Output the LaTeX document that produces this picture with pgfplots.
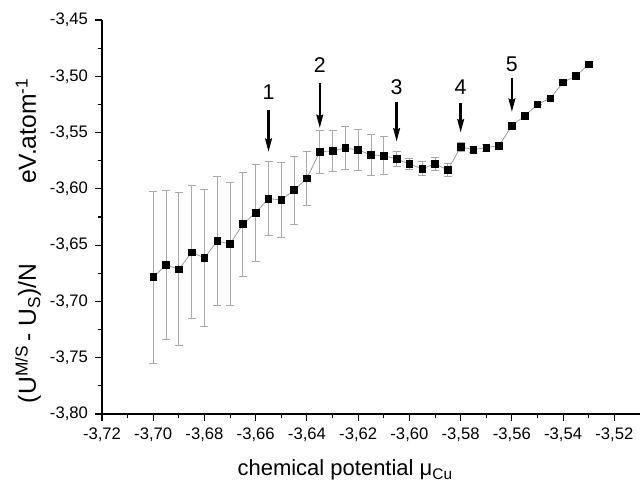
\documentclass[border=0pt]{standalone}
\usepackage{pgfplots}
\pgfplotsset{compat=1.18}
\usepackage{fontspec}
\setmainfont{Liberation Sans}
\usetikzlibrary{arrows.meta}
\definecolor{errgray}{HTML}{A8A8A8}
\definecolor{linegray}{HTML}{9A9A9A}

\pgfplotstableread{
x       y        e
-3.700  -3.6785  0.0765
-3.695  -3.6676  0.0665
-3.690  -3.6714  0.068
-3.685  -3.6563  0.059
-3.680  -3.6614  0.061
-3.675  -3.6463  0.057
-3.670  -3.6490  0.055
-3.665  -3.6314  0.046
-3.660  -3.6211  0.043
-3.655  -3.6087  0.033
-3.650  -3.6098  0.033
-3.645  -3.6012  0.030
-3.640  -3.5906  0.024
-3.635  -3.5670  0.019
-3.630  -3.5663  0.018
-3.625  -3.5639  0.019
-3.620  -3.5654  0.018
-3.615  -3.5699  0.018
-3.610  -3.5705  0.017
-3.605  -3.5734  0.007
-3.600  -3.5781  0.005
-3.595  -3.5820  0.006
-3.590  -3.5779  0.006
-3.585  -3.5832  0.006
-3.580  -3.5628  0.004
-3.575  -3.5651  0.003
-3.570  -3.5634  0.003
-3.565  -3.5616  0.003
-3.560  -3.5439  0.0
-3.555  -3.5352  0.0
-3.550  -3.5249  0.0
-3.545  -3.5195  0.0
-3.540  -3.5053  0.0
-3.535  -3.4997  0.0
-3.530  -3.4894  0.0
}\datatable

\begin{document}
\begin{tikzpicture}
\begin{axis}[
    scale only axis,
    width=403.5pt, height=295.5pt,
    xmin=-3.72, xmax=-3.51,
    ymin=-3.80, ymax=-3.45,
    axis x line=bottom, axis y line=left,
    axis line style={-, line width=0.8pt},
    tick align=outside,
    major tick length=5pt, minor tick length=3pt,
    every tick/.style={black, line width=0.8pt},
    xtick={-3.72,-3.70,...,-3.52},
    ytick={-3.80,-3.75,...,-3.45},
    minor x tick num=1, minor y tick num=1,
    tick label style={font=\fontsize{12.5}{15}\selectfont},
    xticklabel style={yshift=-2pt},
    yticklabel style={xshift=-2pt},
    /pgf/number format/.cd, fixed, fixed zerofill, precision=2, use comma, assume math mode=true,
    /pgfplots/.cd,
    xlabel={chemical potential μ\textsubscript{Cu}},
    ylabel={(U\textsuperscript{M/S}\,- U\textsubscript{S})/N\hspace{2.1cm}eV.atom\textsuperscript{-1}},
    xlabel style={font=\fontsize{16.5}{19}\selectfont, at={(axis description cs:0.452,-0.142)}, anchor=center},
    ylabel style={font=\fontsize{18.5}{21}\selectfont, at={(axis description cs:-0.1375,0.44)}, anchor=center},
    clip=false,
]
\addplot[linegray, line width=0.6pt, mark=square*, mark size=2.5pt,
    mark options={black, solid},
    error bars/.cd, y dir=both, y explicit,
    error bar style={errgray, line width=0.7pt},
    error mark options={rotate=90, errgray, mark size=3pt, line width=0.7pt}]
    table[x=x, y=y, y error=e] {\datatable};

\coordinate (SW) at (rel axis cs:0,0);
\coordinate (NE) at (rel axis cs:1,1);

\begin{scope}[every node/.style={font=\fontsize{16}{18}\selectfont}]
\draw[line width=1.8pt, -{Stealth[length=10pt,width=5pt,inset=1pt]}] (axis cs:-3.655,-3.530) -- (axis cs:-3.655,-3.5672);
\node at (axis cs:-3.655,-3.514) {1};
\draw[line width=1.8pt, -{Stealth[length=10pt,width=5pt,inset=1pt]}] (axis cs:-3.635,-3.506) -- (axis cs:-3.635,-3.546);
\node at (axis cs:-3.635,-3.490) {2};
\draw[line width=1.8pt, -{Stealth[length=10pt,width=5pt,inset=1pt]}] (axis cs:-3.605,-3.523) -- (axis cs:-3.605,-3.558);
\node at (axis cs:-3.605,-3.510) {3};
\draw[line width=1.8pt, -{Stealth[length=10pt,width=5pt,inset=1pt]}] (axis cs:-3.580,-3.524) -- (axis cs:-3.580,-3.550);
\node at (axis cs:-3.580,-3.5096) {4};
\draw[line width=1.8pt, -{Stealth[length=10pt,width=5pt,inset=1pt]}] (axis cs:-3.560,-3.5015) -- (axis cs:-3.560,-3.5317);
\node at (axis cs:-3.560,-3.489) {5};
\end{scope}
\end{axis}
\pgfresetboundingbox
\path ([xshift=-76.5pt,yshift=-53.25pt]SW) rectangle ([yshift=15pt]NE);
\end{tikzpicture}
\end{document}
